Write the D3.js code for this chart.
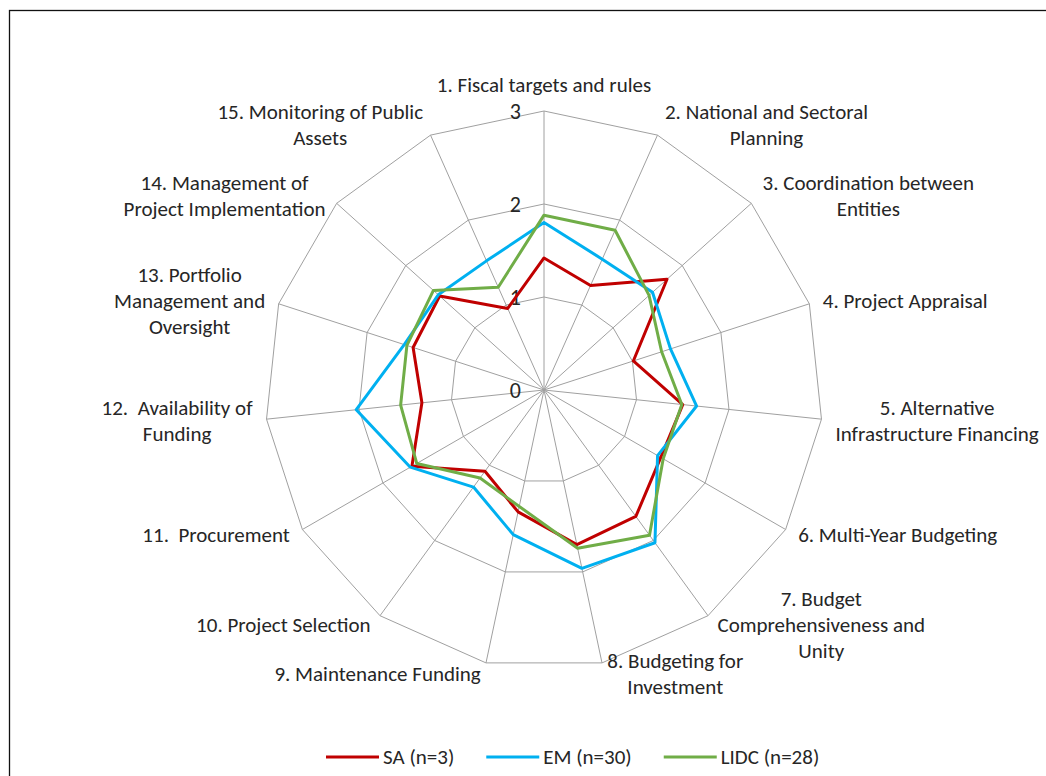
<!DOCTYPE html>
<html><head><meta charset="utf-8">
<script src="https://cdn.jsdelivr.net/npm/d3@7"></script>
<style>
body{margin:0;background:#fff}
svg{display:block}
text{font-family:Carlito,Calibri,Lato,'Liberation Sans',sans-serif;fill:#262626;white-space:pre}
</style>
</head><body>
<svg id="c" width="1046" height="776"></svg>
<script>
const categories = [
  "1. Fiscal targets and rules",
  "2. National and Sectoral\nPlanning",
  "3. Coordination between\nEntities",
  "4. Project Appraisal",
  "5. Alternative\nInfrastructure Financing",
  "6. Multi-Year Budgeting",
  "7. Budget\nComprehensiveness and\nUnity",
  "8. Budgeting for\nInvestment",
  "9. Maintenance Funding",
  "10. Project Selection",
  "11.  Procurement",
  "12.  Availability of\nFunding",
  "13. Portfolio\nManagement and\nOversight",
  "14. Management of\nProject Implementation",
  "15. Monitoring of Public\nAssets"
];
const seriesNames = ["SA (n=3)", "EM (n=30)", "LIDC (n=28)"];
const saValues   = [1.42, 1.23, 1.78, 1.01, 1.50, 1.45, 1.68, 1.70, 1.34, 1.08, 1.64, 1.32, 1.48, 1.51, 0.96];
const emValues   = [1.80, 1.54, 1.57, 1.43, 1.65, 1.41, 2.03, 1.96, 1.59, 1.29, 1.66, 2.03, 1.58, 1.53, 1.52];
const lidcValues = [1.88, 1.88, 1.52, 1.33, 1.49, 1.48, 1.93, 1.74, 1.28, 1.17, 1.58, 1.55, 1.55, 1.60, 1.21];
const tickValues = [0, 1, 2, 3];
const tickLabels = ["0", "1", "2", "3"];
const seriesColors = ["#C00000", "#00B0F0", "#70AD47"];

const series = [saValues, emValues, lidcValues];
const svg = d3.select("#c");

// outer chart border (extends past right/bottom edges)
svg.append("rect").attr("x", 9.5).attr("y", 10.5).attr("width", 1100).attr("height", 1000)
  .attr("fill", "none").attr("stroke", "#111").attr("stroke-width", 1.3);

const cx = 544, cy = 390;
const r = d3.scaleLinear().domain([0, 3]).range([0, 279]);
const angle = d3.scaleLinear().domain([0, categories.length]).range([0, 2 * Math.PI]);
const radial = d3.lineRadial()
  .angle((d, i) => angle(i))
  .radius(d => r(d))
  .curve(d3.curveLinearClosed);

const g = svg.append("g").attr("transform", `translate(${cx},${cy})`);

// grid rings
g.selectAll("path.ring").data(tickValues.filter(v => v > 0)).join("path")
  .attr("class", "ring")
  .attr("d", v => radial(categories.map(() => v)))
  .attr("fill", "none").attr("stroke", "#A0A0A0").attr("stroke-width", 1);

// spokes
g.selectAll("line.spoke").data(categories).join("line")
  .attr("class", "spoke")
  .attr("x1", 0).attr("y1", 0)
  .attr("x2", (d, i) => r(3) * Math.sin(angle(i)))
  .attr("y2", (d, i) => -r(3) * Math.cos(angle(i)))
  .attr("stroke", "#A0A0A0").attr("stroke-width", 1);

// tick labels
g.selectAll("text.tick").data(tickValues).join("text")
  .attr("class", "tick")
  .attr("x", -23)
  .attr("y", v => -r(v))
  .attr("dy", "0.38em")
  .attr("text-anchor", "end")
  .attr("font-size", 22)
  .text((v, i) => tickLabels[i]);

// series
g.selectAll("path.series").data(series).join("path")
  .attr("class", "series")
  .attr("d", d => radial(d))
  .attr("fill", "none")
  .attr("stroke", (d, i) => seriesColors[i])
  .attr("stroke-width", 3)
  .attr("stroke-linejoin", "round");

// category labels
const labelR = r(3) + 11, lineH = 26, gap = 3;
categories.forEach((c, i) => {
  const a = angle(i), ux = Math.sin(a), uy = -Math.cos(a);
  const ax = labelR * ux, ay = labelR * uy;
  const lines = c.split("\n");
  const texts = lines.map(l => g.append("text").attr("font-size", 21)
    .attr("text-anchor", "middle").attr("dy", "0.35em").text(l));
  const w = d3.max(texts, t => t.node().getComputedTextLength());
  const h = lines.length * lineH;
  let bx, by = ay;
  if (Math.abs(ux) < 0.01) { bx = ax; by = ay + uy * (h / 2 + 2); }
  else if (ux > 0) bx = ax + gap + w / 2;
  else bx = ax - gap - w / 2;
  texts.forEach((t, k) => t.attr("x", bx).attr("y", by + (k - (lines.length - 1) / 2) * lineH));
});

// legend
let lx = 326;
const ly = 757;
seriesNames.forEach((n, i) => {
  svg.append("line").attr("x1", lx).attr("x2", lx + 53).attr("y1", ly).attr("y2", ly)
    .attr("stroke", seriesColors[i]).attr("stroke-width", 3);
  const t = svg.append("text").attr("x", lx + 57).attr("y", ly).attr("dy", "0.35em")
    .attr("font-size", 21).text(n);
  lx += 57 + t.node().getComputedTextLength() + 32;
});
</script>
</body></html>
